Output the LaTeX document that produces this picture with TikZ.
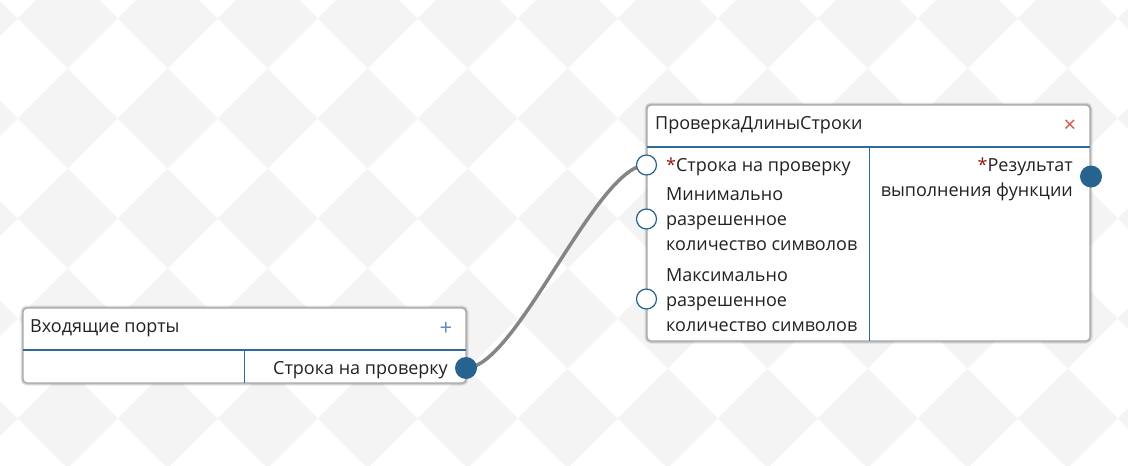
\documentclass[tikz,border=0pt]{standalone}
\usepackage{fontspec}
\setmainfont{Open Sans}
\definecolor{portblue}{HTML}{27638F}
\definecolor{lineblue}{HTML}{2E6A9A}
\definecolor{bgdia}{HTML}{F4F4F4}
\definecolor{wire}{HTML}{858585}
\definecolor{star}{HTML}{8B1A1A}
\definecolor{closered}{HTML}{D9534F}
\definecolor{plusblue}{HTML}{5A8FC4}
\definecolor{boxborder}{HTML}{A8A8A8}
\definecolor{txt}{HTML}{222222}
\begin{document}
\begin{tikzpicture}[x=1pt,y=-1pt,
  lbl/.style={font=\fontsize{18}{25}\selectfont, inner sep=0pt, text=txt},
  ttl/.style={font=\fontsize{18}{22}\selectfont, inner sep=0pt, text=txt},
  card/.style={rectangle, rounded corners=4pt, fill=white, draw=boxborder, line width=1.2pt,
    outer sep=0pt, inner sep=0pt,
    preaction={draw=black, opacity=0.10, line width=5pt},
    preaction={draw=black, opacity=0.12, line width=3pt}},
  hdr/.style={lineblue, line width=2.2pt},
  divider/.style={lineblue, line width=1pt},
  inport/.style={circle, draw=portblue, fill=white, line width=1.2pt, minimum size=20pt, inner sep=0pt},
  outport/.style={circle, fill=portblue, minimum size=22pt, inner sep=0pt},
  wireline/.style={draw=wire, line width=3.5pt}
]
\useasboundingbox (0,0) rectangle (1128,466);
\fill[white] (0,0) rectangle (1128,466);
\begin{scope}
  \clip (0,0) rectangle (1128,466);
  \foreach \i in {-1,...,11}{
    \foreach \j in {-1,...,4}{
      \fill[bgdia] (67.7+100*\i, 18.3+100*\j) +(0,-50) -- +(50,0) -- +(0,50) -- +(-50,0) -- cycle;
    }
  }
\end{scope}

% boxes
\node[card, anchor=north west, minimum width=443pt, minimum height=236pt] (fn) at (647,105) {};
\node[card, anchor=north west, minimum width=443pt, minimum height=75pt] (inputs) at (23,308) {};

% header lines and dividers
\draw[hdr] (647,147) -- (1090,147);
\draw[divider] (869,147) -- (869,341);
\draw[hdr] (23,350) -- (466,350);
\draw[divider] (244,350) -- (244,383);

% titles
\node[ttl, anchor=base west] (fntitle) at (655,129) {ПроверкаДлиныСтроки};
\node[text=closered, font=\fontsize{22}{22}\selectfont, inner sep=0pt] (close) at (1070,126) {×};
\node[ttl, anchor=base west] (intitle) at (30,332) {Входящие порты};
\node[text=plusblue, font=\fontsize{22}{22}\selectfont, inner sep=0pt] (plus) at (446,329) {+};

% labels
\node[lbl, anchor=base west] (l1) at (666,171) {\textcolor{star}{*}Строка на проверку};
\node[lbl, anchor=base west, align=left] (l2) at (666,250) {Минимально\\разрешенное\\количество символов};
\node[lbl, anchor=base west, align=left] (l3) at (666,331) {Максимально\\разрешенное\\количество символов};
\node[lbl, anchor=base east, align=right] (r1) at (1073,196) {\textcolor{star}{*}Результат\\выполнения функции};
\node[lbl, anchor=base east] (s1) at (448,374) {Строка на проверку};

% ports
\coordinate (srcp) at (466,368);
\coordinate (in1p) at (646.5,165);
\draw[wireline] (srcp) .. controls +(50,0) and +(-50,0) .. (in1p);
\node[outport] (src) at (srcp) {};
\node[inport] (in1) at (in1p) {};
\node[inport] (in2) at (646.5,219) {};
\node[inport] (in3) at (646.5,299) {};
\node[outport] (out) at (1091,176.5) {};
\end{tikzpicture}
\end{document}
